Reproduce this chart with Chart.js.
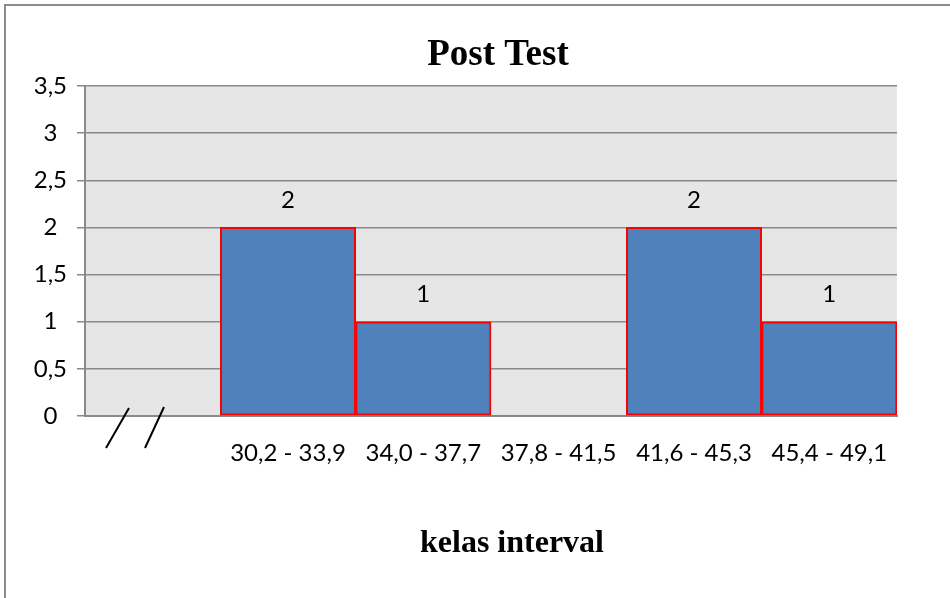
<!DOCTYPE html>
<html>
<head>
<meta charset="utf-8">
<script src="https://cdn.jsdelivr.net/npm/chart.js@4.4.1/dist/chart.umd.min.js"></script>
<style>
  html, body { margin: 0; padding: 0; background: #ffffff; }
  #wrap { width: 950px; height: 598px; position: relative; }
</style>
</head>
<body>
<div id="wrap"><canvas id="c" width="950" height="598"></canvas></div>
<script>
const categories = ['', '30,2 - 33,9', '34,0 - 37,7', '37,8 - 41,5', '41,6 - 45,3', '45,4 - 49,1'];
const frequencies = [null, 2, 1, 0, 2, 1];
const yTicks = { min: 0, max: 3.5, step: 0.5 };
const chartTitle = 'Post Test';
const xTitle = 'kelas interval';

const GRID = '#8a8a8a';
const SERIF = '"Liberation Serif", "Times New Roman", serif';
const SANS = 'Lato, "Open Sans", sans-serif';

const framePlugin = {
  id: 'frameAndBg',
  beforeDraw(chart) {
    const { ctx, chartArea } = chart;
    ctx.save();
    ctx.fillStyle = '#ffffff';
    ctx.fillRect(0, 0, chart.width, chart.height);
    ctx.strokeStyle = '#8c8c8c';
    ctx.lineWidth = 2;
    ctx.strokeRect(5, 5, chart.width + 20, chart.height + 20);
    ctx.fillStyle = '#e6e6e6';
    ctx.fillRect(chartArea.left, chartArea.top, chartArea.right - chartArea.left, chartArea.bottom - chartArea.top);
    ctx.restore();
  }
};

const labelsPlugin = {
  id: 'barValueLabels',
  afterDatasetsDraw(chart) {
    const { ctx } = chart;
    const meta = chart.getDatasetMeta(0);
    ctx.save();
    ctx.font = '24px ' + SANS;
    ctx.fillStyle = '#000';
    ctx.textAlign = 'center';
    ctx.textBaseline = 'middle';
    meta.data.forEach((bar, i) => {
      const v = chart.data.datasets[0].data[i];
      if (v === null || v === 0) return;
      ctx.fillText(String(v), bar.x, bar.y - 27);
    });
    ctx.restore();
  },
  afterDraw(chart) {
    const { ctx, chartArea } = chart;
    // axis break marks under the empty first category
    const x0 = chart.scales.x.left;
    const b = chart.scales.x.top;
    ctx.save();
    ctx.strokeStyle = '#000';
    ctx.lineWidth = 2;
    ctx.beginPath();
    ctx.moveTo(x0 + 21, b + 32); ctx.lineTo(x0 + 44, b - 8);
    ctx.moveTo(x0 + 60, b + 32); ctx.lineTo(x0 + 79, b - 9);
    ctx.stroke();
    // titles
    ctx.fillStyle = '#000';
    ctx.textAlign = 'center';
    ctx.textBaseline = 'middle';
    ctx.font = 'bold 37px ' + SERIF;
    ctx.fillText(chartTitle, chartArea.left + 413, chartArea.top - 31);
    ctx.font = 'bold 32px ' + SERIF;
    ctx.fillText(xTitle, chartArea.left + 427, chartArea.bottom + 128);
    ctx.restore();
  }
};

new Chart(document.getElementById('c'), {
  type: 'bar',
  data: {
    labels: categories,
    datasets: [{
      data: frequencies,
      backgroundColor: '#4f81bd',
      borderColor: '#ff0000',
      borderWidth: (c) => (c.raw ? 2 : 0),
      borderSkipped: false,
      barPercentage: 1,
      categoryPercentage: 1
    }]
  },
  options: {
    responsive: false,
    animation: false,
    devicePixelRatio: 1,
    layout: { padding: { left: 0, right: 53, top: 86, bottom: 0 } },
    plugins: {
      legend: { display: false },
      tooltip: { enabled: false },
      title: { display: false }
    },
    scales: {
      x: {
        afterFit(s) { s.height = 182; },
        grid: { display: false, drawTicks: false },
        border: { display: true, color: GRID, width: 2 },
        ticks: {
          color: '#000',
          font: { family: SANS, size: 24 },
          padding: 23,
          maxRotation: 0,
          autoSkip: false
        }
      },
      y: {
        afterFit(s) { s.width = 85; },
        min: yTicks.min,
        max: yTicks.max,
        grid: { color: GRID, lineWidth: 1.5, drawTicks: true, tickLength: 8 },
        border: { display: true, color: GRID, width: 2 },
        ticks: {
          stepSize: yTicks.step,
          color: '#000',
          font: { family: SANS, size: 24 },
          padding: 10,
          crossAlign: 'center',
          callback: (v) => String(v).replace('.', ',')
        }
      }
    }
  },
  plugins: [framePlugin, labelsPlugin]
});
</script>
</body>
</html>
